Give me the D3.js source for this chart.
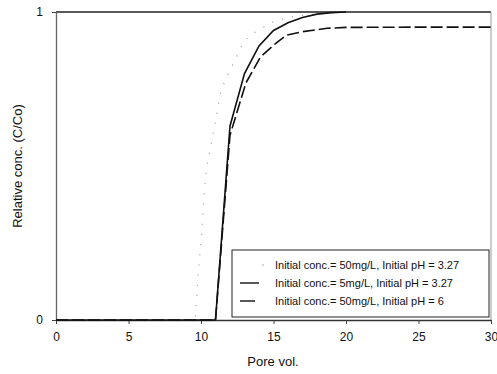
<!DOCTYPE html>
<html><head><meta charset="utf-8">
<script src="https://cdn.jsdelivr.net/npm/d3@7"></script>
<style>body{margin:0;background:#fff}svg{display:block}text{font-family:"Liberation Sans",Arial,sans-serif}</style>
</head><body>
<script>
const xTicks = [0,5,10,15,20,25,30];
const yTicks = [0,1];
const seriesNames = [
  "Initial conc.= 50mg/L, Initial pH = 3.27",
  "Initial conc.= 5mg/L, Initial pH = 3.27",
  "Initial conc.= 50mg/L, Initial pH = 6"
];
const dotX = [0,9.6,9.7,9.8,10.05,10.2,10.4,10.9,11.4,12.3,12.9,13.4,14.8,15.3,16.5,18.2,20];
const dotY = [0,0,0.065,0.15,0.28,0.40,0.50,0.62,0.75,0.84,0.90,0.925,0.964,0.974,0.987,0.994,1.0];
const solidX = [0,11,12,13,14,15,16,17,18,19,20];
const solidY = [0,0,0.63,0.80,0.89,0.94,0.965,0.982,0.993,0.998,1.0];
const dashX = [0,11,12,13.1,14.1,15.2,15.9,17,18.7,20,25,30];
const dashY = [0,0,0.6,0.77,0.854,0.90,0.925,0.936,0.947,0.95,0.951,0.951];

const W=497,H=374, m={l:56,r:6,t:12,b:54};
const svg=d3.select("body").append("svg").attr("width",W).attr("height",H);
const x=d3.scaleLinear().domain([0,30]).range([m.l,491]);
const y=d3.scaleLinear().domain([0,1]).range([320,12]);

// frame
svg.append("line").attr("x1",x(0)).attr("x2",x(30)).attr("y1",y(1)).attr("y2",y(1)).attr("stroke","#222").attr("stroke-width",1.3);
svg.append("line").attr("x1",x(30)).attr("x2",x(30)).attr("y1",y(1)).attr("y2",y(0)).attr("stroke","#999").attr("stroke-width",1);

const xa=svg.append("g").attr("transform",`translate(0,${y(0)})`).call(d3.axisBottom(x).tickValues(xTicks).tickSize(4).tickSizeOuter(0));
const ya=svg.append("g").attr("transform",`translate(${x(0)},0)`).call(d3.axisLeft(y).tickValues(yTicks).tickFormat(d3.format("d")).tickSize(4).tickSizeOuter(0));
xa.select(".domain").attr("stroke","#333").attr("stroke-width",1.3);
ya.select(".domain").attr("stroke","#666").attr("stroke-width",1.3);
xa.selectAll(".tick line").attr("stroke","#444");
ya.selectAll(".tick line").attr("stroke","#444");
xa.selectAll("text").attr("font-size",12).attr("fill","#111").attr("dy","1.2em");
ya.selectAll("text").attr("font-size",12).attr("fill","#111").attr("dx","-0.5em");

const line=d3.line().x(d=>x(d[0])).y(d=>y(d[1]));
svg.append("path").datum(dotX.map((v,i)=>[v,dotY[i]])).attr("d",line).attr("fill","none").attr("stroke","#aaa").attr("stroke-width",1.2).attr("stroke-dasharray","1.2,9");
svg.append("path").datum(solidX.map((v,i)=>[v,solidY[i]])).attr("d",line).attr("fill","none").attr("stroke","#111").attr("stroke-width",1.6);
svg.append("path").datum(dashX.map((v,i)=>[v,dashY[i]])).attr("d",line).attr("fill","none").attr("stroke","#111").attr("stroke-width",1.6).attr("stroke-dasharray","12,4");

// axis titles
svg.append("text").attr("x",273).attr("y",366).attr("text-anchor","middle").attr("font-size",13).attr("fill","#111").text("Pore vol.");
svg.append("text").attr("transform","translate(22,166) rotate(-90)").attr("text-anchor","middle").attr("font-size",13).attr("fill","#111").text("Relative conc. (C/Co)");

// legend
const lg=svg.append("g");
lg.append("rect").attr("x",232).attr("y",250).attr("width",257).attr("height",67).attr("fill","#fff").attr("stroke","#222").attr("stroke-width",1);
const styles=[{c:"#aaa",w:1.2,d:"1.2,9"},{c:"#111",w:1.4,d:null},{c:"#111",w:1.4,d:"15,4,1.5,4"}];
seriesNames.forEach((n,i)=>{
  const yy=265+i*18;
  const s=styles[i];
  const ln=lg.append("line").attr("x1",i===0?262:240).attr("x2",i===0?264:259).attr("y1",yy).attr("y2",yy).attr("stroke",s.c).attr("stroke-width",s.w);
  if(s.d && i>0) ln.attr("stroke-dasharray",s.d);
  lg.append("text").attr("x",275).attr("y",yy).attr("dy","0.35em").attr("font-size",11).attr("fill","#111").text(n);
});
</script>
</body></html>
